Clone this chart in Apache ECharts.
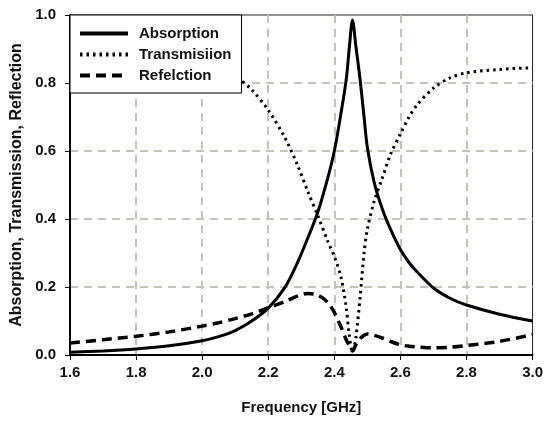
<!DOCTYPE html>
<html>
<head>
<meta charset="utf-8">
<script src="https://cdn.jsdelivr.net/npm/echarts@6/dist/echarts.min.js"></script>
<style>html,body{margin:0;padding:0;background:#fff;}#c{width:546px;height:423px;}</style>
</head>
<body>
<div id="c"></div>
<script>
const freq = [1.6,1.7,1.8,1.9,2.0,2.05,2.1,2.15,2.2,2.25,2.29,2.32,2.35,2.38,2.40,2.42,2.436,2.445,2.455,2.465,2.478,2.49,2.50,2.52,2.545,2.57,2.6,2.626,2.65,2.7,2.75,2.8,2.9,3.0];
const absorption = [.008,.012,.018,.027,.042,.054,.072,.10,.138,.198,.275,.345,.42,.52,.60,.71,.81,.90,.985,.91,.81,.70,.61,.51,.43,.37,.31,.272,.245,.197,.167,.147,.12,.10];
const transmission = [.955,.94,.925,.905,.875,.85,.82,.78,.72,.64,.555,.48,.41,.335,.29,.23,.14,.06,.008,.05,.17,.30,.37,.45,.52,.59,.65,.70,.735,.785,.815,.83,.84,.845];
const reflection = [.035,.045,.055,.068,.085,.095,.107,.121,.139,.157,.174,.181,.176,.155,.125,.083,.045,.028,.012,.03,.048,.058,.062,.058,.05,.04,.03,.026,.024,.021,.023,.028,.04,.06];
const seriesNames = ['Absorption','Transmisiion','Refelction'];
const xTitle = 'Frequency [GHz]';
const yTitle = 'Absorption, Transmission, Reflection';

const FONT = 'Liberation Sans, Arial, sans-serif';
const pairs = arr => freq.map((f,i)=>[f, arr[i]]);
const chart = echarts.init(document.getElementById('c'), null, {renderer:'canvas'});
const gridLine = {show:true, lineStyle:{color:'#c3c3b8', width:2, type:[8,6]}, showMinLine:false, showMaxLine:false};
chart.setOption({
  animation:false,
  backgroundColor:'#fff',
  grid:{left:70, right:12, top:15, bottom:68, show:true, borderColor:'#222', borderWidth:1, containLabel:false},
  legend:{
    orient:'vertical', left:70, top:15, z:20, zlevel:0,
    backgroundColor:'#fff', borderColor:'#000', borderWidth:1,
    padding:[11,10,10,8], itemGap:6, itemWidth:48, itemHeight:14,
    itemStyle:{color:'transparent', borderWidth:0, opacity:0},
    lineStyle:{width:4},
    textStyle:{fontFamily:FONT, fontSize:15, fontWeight:'bold', color:'#111', padding:[0,0,0,6]},
    data:seriesNames
  },
  xAxis:{
    type:'value', min:1.6, max:3.0, interval:0.2,
    name:xTitle, nameLocation:'middle', nameGap:45,
    nameTextStyle:{fontFamily:FONT, fontSize:15, fontWeight:'bold', color:'#111'},
    axisLine:{show:true, onZero:false, lineStyle:{color:'#000', width:2}},
    axisTick:{show:true, length:5, lineStyle:{color:'#000', width:1}},
    axisLabel:{fontFamily:FONT, fontSize:15, fontWeight:'bold', color:'#111', margin:10, formatter:v=>v.toFixed(1)},
    splitLine:gridLine
  },
  yAxis:{
    type:'value', min:0, max:1.0, interval:0.2,
    name:yTitle, nameLocation:'middle', nameGap:40,
    nameTextStyle:{fontFamily:FONT, fontSize:16, fontWeight:'bold', color:'#111'},
    axisLine:{show:true, onZero:false, lineStyle:{color:'#000', width:2}},
    axisTick:{show:true, length:5, lineStyle:{color:'#000', width:1}},
    axisLabel:{fontFamily:FONT, fontSize:15, fontWeight:'bold', color:'#111', margin:14, formatter:v=>v.toFixed(1)},
    splitLine:gridLine
  },
  series:[
    {name:seriesNames[0], type:'line', data:pairs(absorption), symbol:'none', smooth:0.3, z:5,
     lineStyle:{color:'#000', width:3}, itemStyle:{color:'#000'}},
    {name:seriesNames[1], type:'line', data:pairs(transmission), symbol:'none', smooth:0.3, z:4,
     lineStyle:{color:'#000', width:3, type:[2.5,4]}, itemStyle:{color:'#000'}},
    {name:seriesNames[2], type:'line', data:pairs(reflection), symbol:'none', smooth:0.3, z:4,
     lineStyle:{color:'#000', width:3.5, type:[10,6]}, itemStyle:{color:'#000'}}
  ]
});
</script>
</body>
</html>
